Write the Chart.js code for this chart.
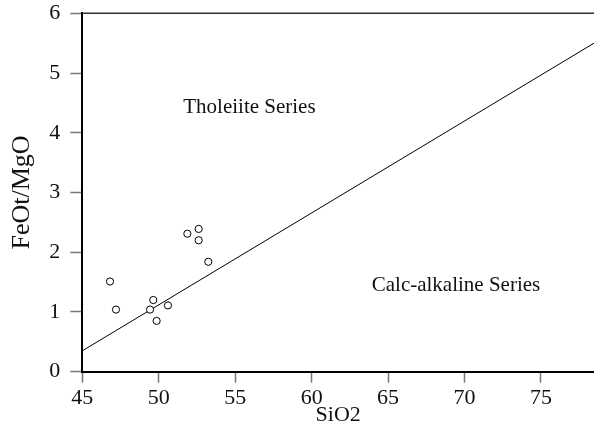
<!DOCTYPE html>
<html>
<head>
<meta charset="utf-8">
<script src="https://cdn.jsdelivr.net/npm/chart.js@4/dist/chart.umd.min.js"></script>
<style>
  html, body { margin: 0; padding: 0; background: #fff; }
  #wrap { width: 594px; height: 436px; position: relative; }
</style>
</head>
<body>
<div id="wrap"><canvas id="c" width="594" height="436"></canvas></div>
<script>
// Sample data
const sio2 = [46.81, 47.20, 49.43, 49.64, 49.86, 50.60, 51.87, 52.61, 52.61, 53.24];
const feoMgo = [1.51, 1.04, 1.04, 1.20, 0.85, 1.11, 2.31, 2.39, 2.20, 1.84];

// Tholeiite / calc-alkaline dividing line end points
const boundarySiO2 = [45, 78.47];
const boundaryRatio = [0.35, 5.50];

// Axis ticks
const xTicks = [45, 50, 55, 60, 65, 70, 75];
const yTicks = [0, 1, 2, 3, 4, 5, 6];

// Field labels
const fieldNames = ['Tholeiite Series', 'Calc-alkaline Series'];
const fieldSiO2 = [51.6, 63.93];
const fieldRatio = [4.42, 1.45];

const serif = '"Liberation Serif", "Times New Roman", serif';

const samplePoints = sio2.map((x, i) => ({ x: x, y: feoMgo[i] }));
const boundaryPoints = boundarySiO2.map((x, i) => ({ x: x, y: boundaryRatio[i] }));

const framePlugin = {
  id: 'frame',
  afterDatasetsDraw(chart) {
    const { ctx, chartArea, scales } = chart;
    ctx.save();
    // top frame line
    ctx.strokeStyle = '#333';
    ctx.lineWidth = 1.5;
    ctx.beginPath();
    ctx.moveTo(chartArea.left, chartArea.top);
    ctx.lineTo(chartArea.right, chartArea.top);
    ctx.stroke();
    // field labels
    ctx.fillStyle = '#111';
    ctx.font = '21px ' + serif;
    ctx.textAlign = 'left';
    ctx.textBaseline = 'middle';
    fieldNames.forEach((t, i) => {
      ctx.fillText(t, scales.x.getPixelForValue(fieldSiO2[i]), scales.y.getPixelForValue(fieldRatio[i]));
    });
    ctx.restore();
  }
};

new Chart(document.getElementById('c'), {
  type: 'scatter',
  data: {
    datasets: [
      {
        label: 'Samples',
        data: samplePoints,
        pointRadius: 3.6,
        pointBorderWidth: 1,
        pointBorderColor: '#000',
        pointBackgroundColor: '#fff',
        order: 1
      },
      {
        label: 'Boundary',
        type: 'line',
        data: boundaryPoints,
        borderColor: '#000',
        borderWidth: 1,
        pointRadius: 0,
        fill: false,
        order: 2
      }
    ]
  },
  options: {
    responsive: false,
    animation: false,
    clip: false,
    layout: { autoPadding: false, padding: { left: 0, right: 0, top: 0, bottom: 0 } },
    plugins: {
      legend: { display: false },
      tooltip: { enabled: false }
    },
    scales: {
      x: {
        type: 'linear',
        min: 45,
        max: 78.47,
        afterBuildTicks(scale) {
          scale.ticks = xTicks.map(v => ({ value: v }));
        },
        afterFit(scale) {
          scale.height = 64.3;
          scale.paddingLeft = 0;
          scale.paddingRight = 0;
        },
        ticks: {
          color: '#111',
          font: { family: serif, size: 22 },
          padding: 2,
          maxRotation: 0,
          autoSkip: false
        },
        grid: {
          display: true,
          drawOnChartArea: false,
          drawTicks: true,
          tickLength: 11,
          tickColor: '#777',
          tickWidth: 1.5
        },
        border: { display: true, color: '#000', width: 2 },
        title: {
          display: true,
          text: 'SiO2',
          color: '#111',
          font: { family: serif, size: 22 },
          padding: { top: 0, bottom: 7.5 }
        }
      },
      y: {
        type: 'linear',
        min: 0,
        max: 6,
        afterBuildTicks(scale) {
          scale.ticks = yTicks.map(v => ({ value: v }));
        },
        afterFit(scale) {
          scale.width = 82.33;
          scale.paddingTop = 13.3;
          scale.paddingBottom = 0;
        },
        ticks: {
          color: '#111',
          font: { family: serif, size: 22 },
          padding: 10
        },
        grid: {
          display: true,
          drawOnChartArea: false,
          drawTicks: true,
          tickLength: 12,
          tickColor: '#777',
          tickWidth: 1.5
        },
        border: { display: true, color: '#000', width: 2 },
        title: {
          display: true,
          text: 'FeOt/MgO',
          color: '#111',
          font: { family: serif, size: 26 },
          padding: { top: 7, bottom: 0 }
        }
      }
    }
  },
  plugins: [framePlugin]
});
</script>
</body>
</html>
